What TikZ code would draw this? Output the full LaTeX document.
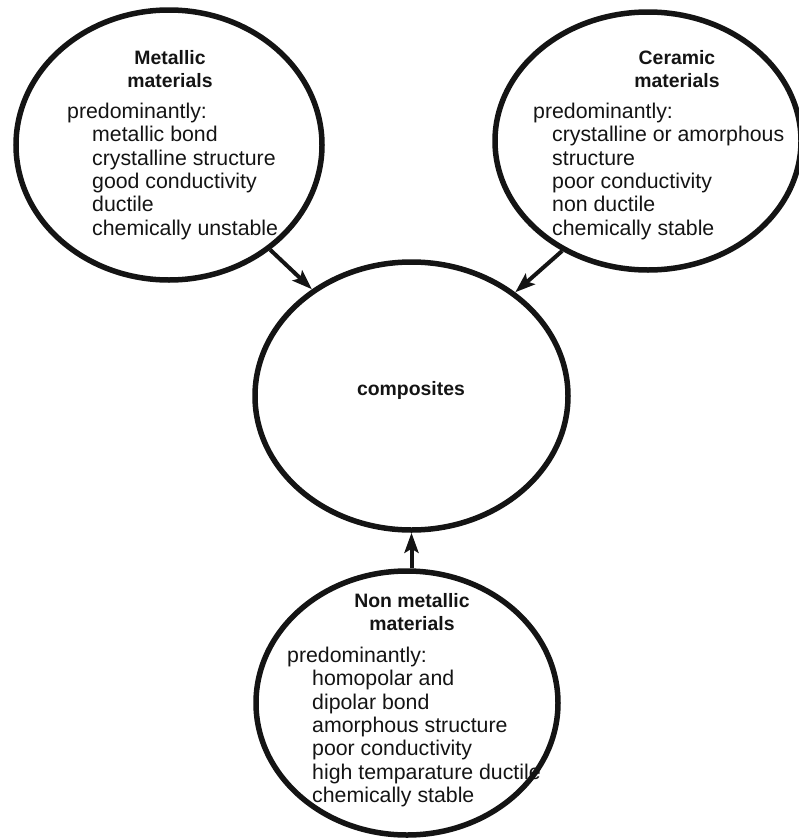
\documentclass[tikz,border=0pt]{standalone}
\usepackage{fontspec}
\setmainfont{Liberation Sans}
\usetikzlibrary{shapes.geometric,arrows.meta}
\begin{document}
\begin{tikzpicture}[x=1pt,y=-1pt,
  blob/.style={ellipse,draw=black!92,line width=5.5pt,inner sep=0pt},
  ttl/.style={font=\fontsize{19.4}{23.3}\selectfont\bfseries,align=center,anchor=north,inner sep=0pt,text=black!92},
  body/.style={font=\fontsize{21.3}{23.3}\selectfont,align=left,anchor=north west,inner sep=0pt,text=black!92},
  arr/.style={draw=black!92,line width=4pt,-{Stealth[length=20pt,width=14pt,inset=4pt]}}]
\useasboundingbox (0,0) rectangle (799,838);
% ellipses
\node[blob,minimum width=306pt,minimum height=270pt] (met) at (169,145) {};
\node[blob,minimum width=306pt,minimum height=258pt] (cer) at (648,141) {};
\node[blob,minimum width=313pt,minimum height=268pt] (comp) at (411.5,396) {};
\node[blob,minimum width=302pt,minimum height=264pt] (non) at (407,703) {};
% texts
\node[ttl] (metT) at (170,50) {Metallic\\materials};
\node[body] (metB) at (67,103) {predominantly:\\\hspace*{25pt}metallic bond\\\hspace*{25pt}crystalline structure\\\hspace*{25pt}good conductivity\\\hspace*{25pt}ductile\\\hspace*{25pt}chemically unstable};
\node[ttl] (cerT) at (677,50) {Ceramic\\materials};
\node[body] (cerB) at (533,103) {predominantly:\\\hspace*{19pt}crystalline or amorphous\\\hspace*{19pt}structure\\\hspace*{19pt}poor conductivity\\\hspace*{19pt}non ductile\\\hspace*{19pt}chemically stable};
\node[ttl,anchor=center] (compT) at (411,390) {composites};
\node[ttl] (nonT) at (412,593) {Non metallic\\materials};
\node[body] (nonB) at (287,647) {predominantly:\\\hspace*{25pt}homopolar and\\\hspace*{25pt}dipolar bond\\\hspace*{25pt}amorphous structure\\\hspace*{25pt}poor conductivity\\\hspace*{25pt}high temparature ductile\\\hspace*{25pt}chemically stable};
% arrows
\draw[arr] (met.-46) -- (comp.133);
\draw[arr] (cer.-128) -- (comp.45);
\draw[arr] (non.north -| comp.south) -- (comp.south);
\end{tikzpicture}
\end{document}
